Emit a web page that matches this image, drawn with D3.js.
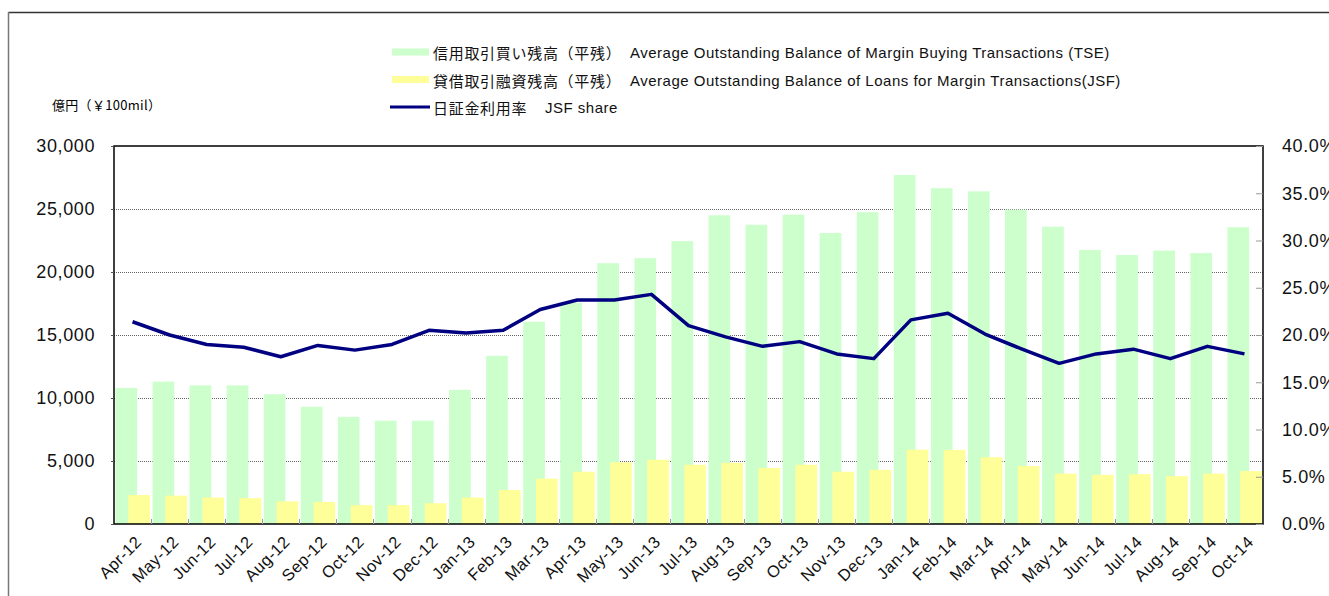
<!DOCTYPE html>
<html>
<head>
<meta charset="utf-8">
<script src="https://cdn.jsdelivr.net/npm/d3@7"></script>
<style>
  html, body { margin: 0; padding: 0; background: #fff; }
  svg { display: block; font-family: "Liberation Sans", Arial, "Noto Sans CJK JP", sans-serif; }
</style>
</head>
<body>
<svg id="chart" width="1329" height="596"></svg>
<script>
const months = ['Apr-12','May-12','Jun-12','Jul-12','Aug-12','Sep-12','Oct-12','Nov-12','Dec-12',
  'Jan-13','Feb-13','Mar-13','Apr-13','May-13','Jun-13','Jul-13','Aug-13','Sep-13','Oct-13','Nov-13','Dec-13',
  'Jan-14','Feb-14','Mar-14','Apr-14','May-14','Jun-14','Jul-14','Aug-14','Sep-14','Oct-14'];

// 信用取引買い残高 (TSE), 億円
const tseBalance = [10800, 11300, 11000, 11000, 10300, 9300, 8500, 8200, 8200,
  10650, 13350, 16050, 17550, 20700, 21100, 22450, 24500, 23750, 24550, 23100, 24750,
  27700, 26650, 26400, 24950, 23600, 21750, 21350, 21700, 21500, 23550];

// 貸借取引融資残高 (JSF), 億円
const jsfBalance = [2300, 2250, 2100, 2050, 1800, 1750, 1500, 1500, 1650,
  2100, 2700, 3600, 4150, 4900, 5100, 4700, 4850, 4450, 4700, 4150, 4300,
  5900, 5880, 5300, 4600, 4000, 3900, 3950, 3800, 4000, 4200];

// 日証金利用率 JSF share
const jsfShare = [0.214, 0.200, 0.190, 0.187, 0.177, 0.189, 0.184, 0.190, 0.205,
  0.202, 0.205, 0.227, 0.237, 0.237, 0.243, 0.210, 0.198, 0.188, 0.193, 0.180, 0.175,
  0.216, 0.223, 0.201, 0.185, 0.170, 0.180, 0.185, 0.175, 0.188, 0.180];

const leftTicks = [0, 5000, 10000, 15000, 20000, 25000, 30000];
const rightTicks = [0, 0.05, 0.10, 0.15, 0.20, 0.25, 0.30, 0.35, 0.40];

const legendItems = [
  { jp: '信用取引買い残高（平残）', en: 'Average Outstanding Balance of Margin Buying Transactions (TSE)', type: 'bar', color: '#ccffcc', enX: 630 },
  { jp: '貸借取引融資残高（平残）', en: 'Average Outstanding Balance of Loans for Margin Transactions(JSF)', type: 'bar', color: '#ffff99', enX: 630 },
  { jp: '日証金利用率', en: 'JSF share', type: 'line', color: '#000080', enX: 545 }
];

const plot = { left: 114, right: 1263, top: 146, bottom: 524 };
const svg = d3.select('#chart');

// outer frame
svg.append('line').attr('x1', 8.5).attr('x2', 1329).attr('y1', 12.5).attr('y2', 12.5)
  .attr('stroke', '#333').attr('stroke-width', 1.5);
svg.append('line').attr('x1', 8.5).attr('x2', 8.5).attr('y1', 12).attr('y2', 596)
  .attr('stroke', '#777').attr('stroke-width', 1.5);

const x = d3.scaleBand().domain(months).range([plot.left, plot.right]).padding(0);
const y = d3.scaleLinear().domain([0, 30000]).range([plot.bottom, plot.top]);
const y2 = d3.scaleLinear().domain([0, 0.4]).range([plot.bottom, plot.top]);

const bw = x.bandwidth();
const barW = bw * 0.585;

// gridlines
svg.append('g')
  .selectAll('line')
  .data(leftTicks.filter(d => d > 0 && d < 30000))
  .enter().append('line')
  .attr('x1', plot.left).attr('x2', plot.right)
  .attr('y1', d => Math.round(y(d)) + 0.5).attr('y2', d => Math.round(y(d)) + 0.5)
  .attr('stroke', '#666').attr('stroke-width', 1).attr('stroke-dasharray', '1,1');

// bars
svg.append('g').selectAll('rect')
  .data(months)
  .enter().append('rect')
  .attr('x', (d, i) => x(d) + bw * 0.04)
  .attr('width', barW)
  .attr('y', (d, i) => y(tseBalance[i]))
  .attr('height', (d, i) => plot.bottom - y(tseBalance[i]))
  .attr('fill', '#ccffcc');

svg.append('g').selectAll('rect')
  .data(months)
  .enter().append('rect')
  .attr('x', (d, i) => x(d) + bw * 0.385)
  .attr('width', barW)
  .attr('y', (d, i) => y(jsfBalance[i]))
  .attr('height', (d, i) => plot.bottom - y(jsfBalance[i]))
  .attr('fill', '#ffff99');

// line
const line = d3.line()
  .x((d, i) => x(months[i]) + bw / 2)
  .y(d => y2(d));

svg.append('path')
  .datum(jsfShare)
  .attr('d', line)
  .attr('fill', 'none')
  .attr('stroke', '#000080')
  .attr('stroke-width', 3.5)
  .attr('stroke-linejoin', 'round');

// plot border
svg.append('rect')
  .attr('x', plot.left).attr('y', plot.top)
  .attr('width', plot.right - plot.left).attr('height', plot.bottom - plot.top)
  .attr('fill', 'none').attr('stroke', '#000').attr('stroke-width', 1.5);

// left axis
const leftAxis = svg.append('g')
  .attr('transform', `translate(${plot.left},0)`)
  .call(d3.axisLeft(y).tickValues(leftTicks).tickFormat(d3.format(',')).tickSizeInner(3).tickSizeOuter(0).tickPadding(16));
leftAxis.select('.domain').remove();
leftAxis.selectAll('line').attr('stroke', '#555');
leftAxis.selectAll('text')
  .style('font-size', '18px').style('letter-spacing', '0.6px').attr('fill', '#111')
  .attr('font-family', '"Liberation Sans", Arial, sans-serif');

// right axis
const rightAxis = svg.append('g')
  .attr('transform', `translate(${plot.right},0)`)
  .call(d3.axisRight(y2).tickValues(rightTicks).tickFormat(d3.format('.1%')).tickSizeInner(-7).tickSizeOuter(0).tickPadding(19));
rightAxis.select('.domain').remove();
rightAxis.selectAll('line').attr('stroke', '#999');
rightAxis.selectAll('text')
  .style('font-size', '18px').style('letter-spacing', '0.6px').attr('fill', '#111')
  .attr('font-family', '"Liberation Sans", Arial, sans-serif');

// category boundary ticks on x axis
svg.append('g').selectAll('line')
  .data(months.slice(1))
  .enter().append('line')
  .attr('x1', d => Math.round(x(d)) + 0.5).attr('x2', d => Math.round(x(d)) + 0.5)
  .attr('y1', plot.bottom - 5).attr('y2', plot.bottom)
  .attr('stroke', '#999');

// x labels
svg.append('g').selectAll('text')
  .data(months)
  .enter().append('text')
  .attr('transform', d => `translate(${x(d) + bw / 2 + 6},${plot.bottom + 15}) rotate(-45)`)
  .attr('text-anchor', 'end')
  .attr('dy', '0.35em')
  .style('font-size', '16.5px')
  .style('letter-spacing', '0.4px')
  .attr('fill', '#111')
  .text(d => d);

// unit label
svg.append('text')
  .attr('x', 52).attr('y', 104)
  .attr('dominant-baseline', 'central')
  .style('font-size', '13px')
  .style('letter-spacing', '0.3px')
  .attr('font-family', '"Noto Sans CJK JP", sans-serif')
  .text('億円（￥100mil）');

// legend
const legend = svg.append('g');
const rowY = [52, 79.5, 107];
legendItems.forEach((item, i) => {
  if (item.type === 'bar') {
    legend.append('rect').attr('x', 392).attr('y', rowY[i] - 3.5).attr('width', 37).attr('height', 7)
      .attr('fill', item.color);
  } else {
    legend.append('line').attr('x1', 390).attr('x2', 430).attr('y1', rowY[i]).attr('y2', rowY[i])
      .attr('stroke', item.color).attr('stroke-width', 3);
  }
  const t = legend.append('text').attr('y', rowY[i]).attr('dominant-baseline', 'central')
    .style('font-size', '15px').attr('fill', '#111');
  t.append('tspan').attr('x', 433).style('letter-spacing', '0.7px')
    .attr('font-family', '"Noto Sans CJK JP", sans-serif').text(item.jp);
  t.append('tspan').attr('x', item.enX).style('letter-spacing', '0.5px')
    .attr('font-family', '"Liberation Sans", Arial, sans-serif').text(item.en);
});
</script>
</body>
</html>
